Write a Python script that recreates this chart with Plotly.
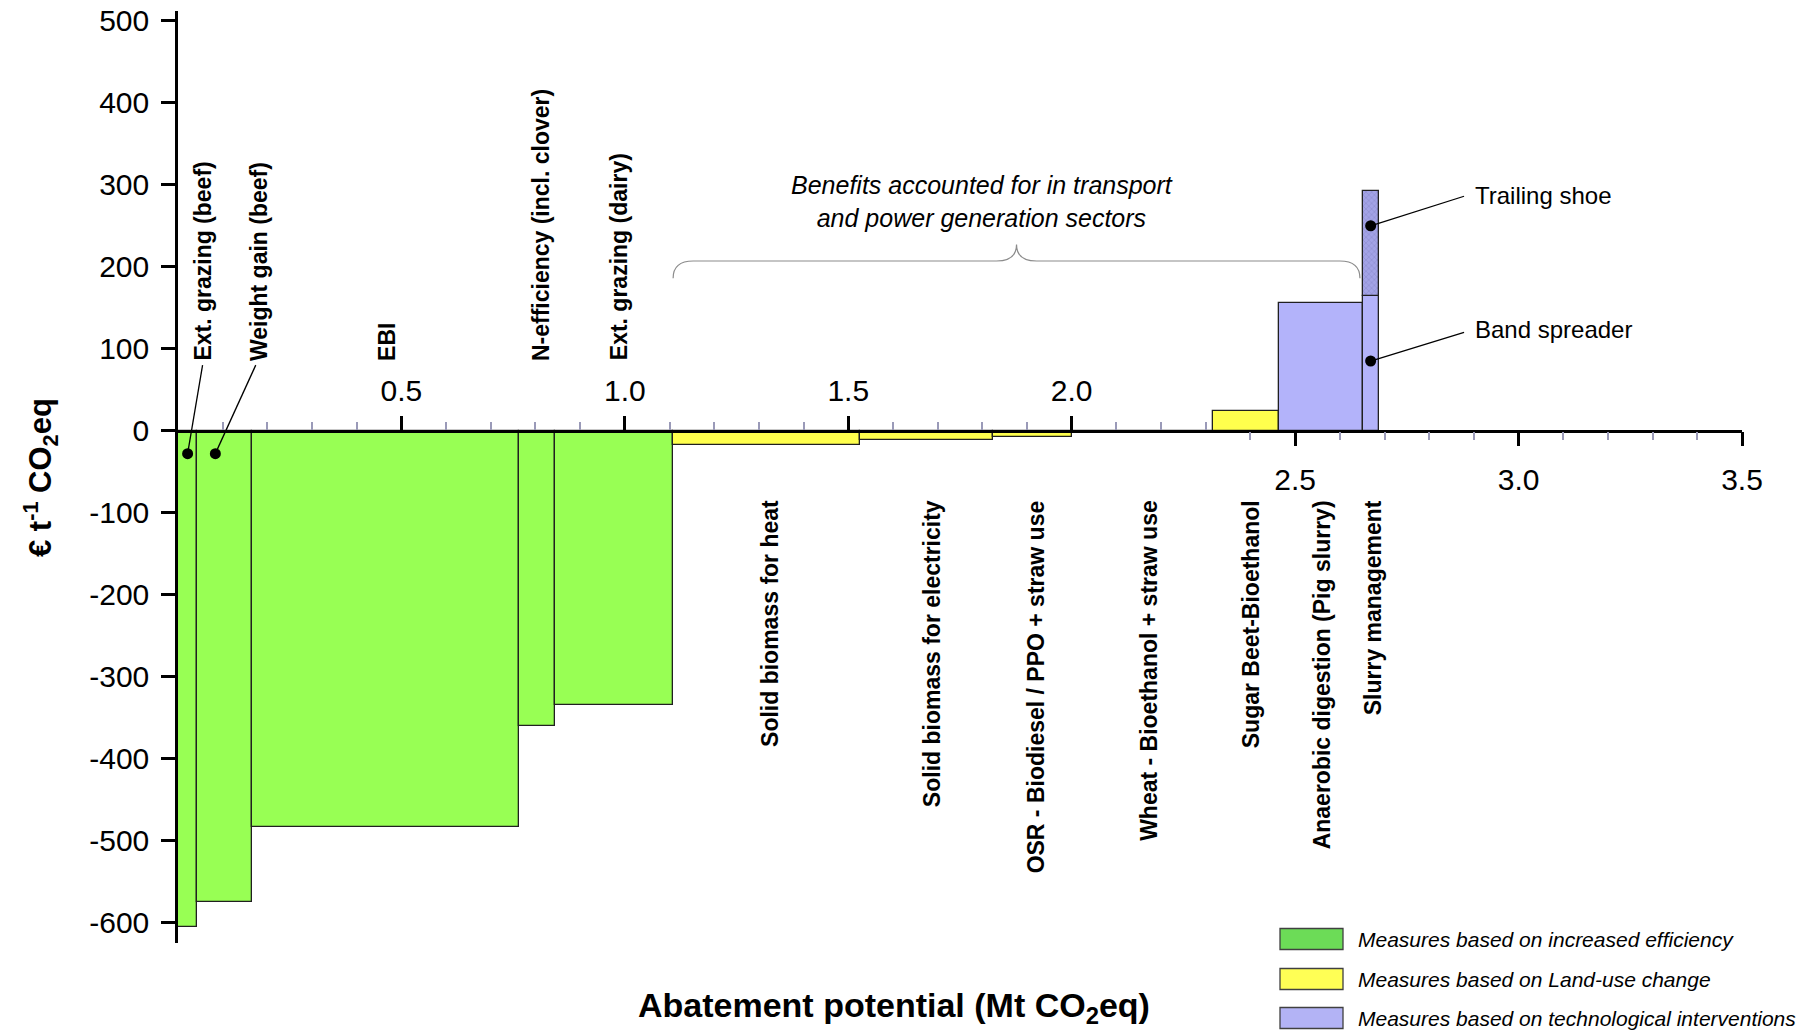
import plotly.graph_objects as go

# ---------------- data ----------------
measures = ["Ext. grazing (beef)", "Weight gain (beef)", "EBI", "N-efficiency (incl. clover)",
            "Ext. grazing (dairy)", "Solid biomass for heat", "Solid biomass for electricity",
            "OSR - Biodiesel / PPO + straw use", "Wheat - Bioethanol + straw use",
            "Sugar Beet-Bioethanol", "Anaerobic digestion (Pig slurry)", "Slurry management"]
potential = [0.043, 0.123, 0.597, 0.080, 0.265, 0.419, 0.297, 0.176, 0.317, 0.147, 0.187, 0.036]
cost = [-606, -575, -484, -360, -335, -17, -11, -8, 0, 24, 156, 164]
group = ["eff", "eff", "eff", "eff", "eff", "land", "land", "land", "land", "land", "tech", "tech"]
label_side = ["above"] * 5 + ["below"] * 7

# stacked sub-measure within slurry management
trailing_shoe_top = 292
sub_labels = ["Trailing shoe", "Band spreader"]
sub_dot_y = [250, 85]
sub_line_end_y = [286, 120]
sub_text_y = [287, 124]
dot_y_beef = -28

group_names = {"eff": "Measures based on increased efficiency",
               "land": "Measures based on Land-use change",
               "tech": "Measures based on technological interventions"}
bar_colors = {"eff": "#98FF54", "land": "#FFFF4D", "tech": "#B3B3FA"}
legend_colors = {"eff": "#6CDC57", "land": "#FFFF55", "tech": "#B3B3F5"}

y_ticks = list(range(-600, 501, 100))
x_ticks_top = [0.5, 1.0, 1.5, 2.0]
x_ticks_bottom = [2.5, 3.0, 3.5]
x_minor_top = [0.1, 0.2, 0.3, 0.4, 0.6, 0.7, 0.8, 0.9, 1.1, 1.2, 1.3, 1.4,
               1.6, 1.7, 1.8, 1.9, 2.1, 2.2, 2.3]
x_minor_bottom = [2.4, 2.6, 2.7, 2.8, 2.9, 3.1, 3.2, 3.3, 3.4]

# ---------------- derived geometry ----------------
starts, centers = [], []
acc = 0.0
for w in potential:
    starts.append(acc)
    centers.append(acc + w / 2)
    acc += w
ends = [s + w for s, w in zip(starts, potential)]

FONT = "Liberation Sans, Arial, sans-serif"
Y_RANGE = [-625, 512]
X_RANGE = [0, 3.5]
zero_pos = (0 - Y_RANGE[0]) / (Y_RANGE[1] - Y_RANGE[0])

fig = go.Figure()

fig.add_trace(go.Bar(
    x=centers, y=cost, width=potential, base=0,
    marker=dict(color=[bar_colors[g] for g in group], line=dict(color="#202020", width=1.3)),
    showlegend=False, hovertext=measures))

# trailing shoe stacked on top of band spreader
fig.add_trace(go.Bar(
    x=[centers[-1]], y=[trailing_shoe_top - cost[-1]], width=[potential[-1]], base=[cost[-1]],
    marker=dict(color="#9C9CE0", line=dict(color="#202020", width=1.3),
                pattern=dict(shape="x", size=4, solidity=0.25, fgcolor="#7070B0", bgcolor="#A3A3E6")),
    showlegend=False, hovertext=["Trailing shoe"]))

# dots
dot_x = [starts[0] + potential[0] / 2, starts[1] + potential[1] * 0.33, centers[-1], centers[-1]]
dot_y = [dot_y_beef, dot_y_beef] + sub_dot_y
fig.add_trace(go.Scatter(x=dot_x, y=dot_y, mode="markers",
                         marker=dict(color="black", size=11), showlegend=False, hoverinfo="skip"))

# invisible trace for secondary x axis
fig.add_trace(go.Scatter(x=[x_ticks_bottom[0]], y=[0], xaxis="x2", mode="markers",
                         marker=dict(opacity=0), showlegend=False, hoverinfo="skip"))

annotations = []
shapes = []

# measure labels
label_x = [0.057, 0.181, 0.466, 0.811, 0.987, 1.326, 1.689, 1.920, 2.174, 2.402, 2.560, 2.674]
for m, lx, side in zip(measures, label_x, label_side):
    annotations.append(dict(
        x=lx, y=83 if side == "above" else -82, xref="x", yref="y",
        text="<b>" + m + "</b>", textangle=-90, showarrow=False,
        xanchor="center", yanchor="bottom" if side == "above" else "top",
        font=dict(family=FONT, size=23, color="black")))

# leader lines for beef labels
leader_top = [(0.055, 80), (0.174, 80)]
for (dx, dy), (tx, ty) in zip(zip(dot_x[:2], dot_y[:2]), leader_top):
    shapes.append(dict(type="line", xref="x", yref="y", x0=dx, y0=dy, x1=tx, y1=ty,
                       line=dict(color="black", width=1.3)))

# sub-measure labels + leader lines
for lab, dy, ey, ty in zip(sub_labels, sub_dot_y, sub_line_end_y, sub_text_y):
    shapes.append(dict(type="line", xref="x", yref="y", x0=centers[-1], y0=dy, x1=2.878, y1=ey,
                       line=dict(color="black", width=1.3)))
    annotations.append(dict(x=2.897, y=ty, xref="x", yref="y", text=lab, showarrow=False,
                            xanchor="left", yanchor="middle",
                            font=dict(family=FONT, size=24, color="black")))

# brace over biofuel measures
bx1, bx2 = ends[4], ends[-2] - 0.006
bm = (bx1 + bx2) / 2
by, bend, btip, rx = 207, 186, 227, 0.045
path = (f"M {bx1},{bend} Q {bx1},{by} {bx1+rx},{by} L {bm-rx},{by} Q {bm},{by} {bm},{btip} "
        f"Q {bm},{by} {bm+rx},{by} L {bx2-rx},{by} Q {bx2},{by} {bx2},{bend}")
shapes.append(dict(type="path", xref="x", yref="y", path=path,
                   line=dict(color="#8C8C8C", width=1.2)))
annotations.append(dict(x=1.80, y=280, xref="x", yref="y",
                        text="<i>Benefits accounted for in transport<br>and power generation sectors</i>",
                        showarrow=False, xanchor="center", yanchor="middle", align="center",
                        font=dict(family=FONT, size=25, color="black")))

# axis titles
L, R, T, B = 178, 73, 11, 89
W, H = 1815, 1032
pw, ph = W - L - R, H - T - B
px2x = lambda px: (px - L) / pw
py2y = lambda py: (H - B - py) / ph

annotations.append(dict(x=px2x(40), y=py2y(478), xref="paper", yref="paper",
                        text="<b>€ t<sup>-1</sup> CO<sub>2</sub>eq</b>", textangle=-90,
                        showarrow=False, xanchor="center", yanchor="middle",
                        font=dict(family=FONT, size=31, color="black")))
annotations.append(dict(x=px2x(894), y=py2y(1007), xref="paper", yref="paper",
                        text="<b>Abatement potential (Mt CO<sub>2</sub>eq)</b>",
                        showarrow=False, xanchor="center", yanchor="middle",
                        font=dict(family=FONT, size=34, color="black")))

# custom legend
leg_rows = [939, 979, 1018]
for g, cy in zip(["eff", "land", "tech"], leg_rows):
    shapes.append(dict(type="rect", xref="paper", yref="paper",
                       x0=px2x(1280), x1=px2x(1343), y0=py2y(cy + 10.5), y1=py2y(cy - 10.5),
                       fillcolor=legend_colors[g], line=dict(color="#404040", width=1.3)))
    annotations.append(dict(x=px2x(1356), y=py2y(cy), xref="paper", yref="paper",
                            text="<i>" + group_names[g] + "</i>", showarrow=False,
                            xanchor="left", yanchor="middle",
                            font=dict(family=FONT, size=21, color="black")))

# axis line extension left of the y axis
shapes.append(dict(type="line", xref="paper", yref="y", x0=px2x(162), x1=0, y0=0, y1=0,
                   line=dict(color="black", width=2.5)))

tickfont = dict(family=FONT, size=30, color="black")
fig.update_layout(
    width=W, height=H, margin=dict(l=L, r=R, t=T, b=B, autoexpand=False),
    paper_bgcolor="white", plot_bgcolor="white", barmode="overlay",
    xaxis=dict(range=X_RANGE, anchor="free", position=zero_pos, side="top", automargin=False,
               showline=True, linecolor="black", linewidth=2.5, showgrid=False, zeroline=False,
               tickmode="array", tickvals=x_ticks_top, ticktext=[f"{v:.1f}" for v in x_ticks_top],
               ticks="outside", ticklen=14, tickwidth=2.5, tickcolor="black",
               ticklabelstandoff=3, tickfont=tickfont,
               minor=dict(tickmode="array", tickvals=x_minor_top, ticks="outside",
                          ticklen=8, tickwidth=2, tickcolor="#9A9AB8")),
    xaxis2=dict(range=X_RANGE, overlaying="x", anchor="free", position=zero_pos, side="bottom",
                automargin=False, showline=False, showgrid=False, zeroline=False,
                tickmode="array", tickvals=x_ticks_bottom, ticktext=[f"{v:.1f}" for v in x_ticks_bottom],
                ticks="outside", ticklen=14, tickwidth=2.5, tickcolor="black",
                ticklabelstandoff=8, tickfont=tickfont,
                minor=dict(tickmode="array", tickvals=x_minor_bottom, ticks="outside",
                           ticklen=8, tickwidth=2, tickcolor="#9A9AB8")),
    yaxis=dict(range=Y_RANGE, automargin=False, showline=True, linecolor="black", linewidth=2.5,
               showgrid=False, zeroline=False, tickmode="array", tickvals=y_ticks,
               ticktext=[str(v) for v in y_ticks],
               ticks="outside", ticklen=14, tickwidth=2.5, tickcolor="black",
               ticklabelstandoff=6, tickfont=tickfont),
    annotations=annotations, shapes=shapes, bargap=0,
)

fig.write_html("out.html", config={"displayModeBar": False},
               post_script="document.body.style.margin='0px';document.body.style.overflow='hidden';")
